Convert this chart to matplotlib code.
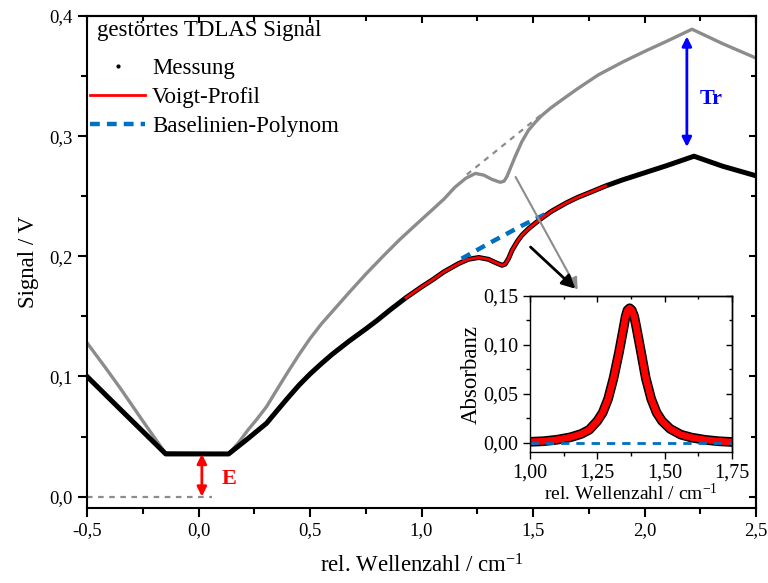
import matplotlib
matplotlib.use("Agg")
import numpy as np
import matplotlib.pyplot as plt
from matplotlib.lines import Line2D
from matplotlib.ticker import MultipleLocator, FuncFormatter

plt.rcParams["font.family"] = ["Liberation Serif", "DejaVu Serif"]
plt.rcParams["mathtext.fontset"] = "custom"
plt.rcParams["mathtext.rm"] = "Liberation Serif"
plt.rcParams["mathtext.it"] = "Liberation Serif:italic"

# ── Data ──────────────────────────────────────────────────────────────────────
# disturbed measurement (black)
wn_mess = [-0.5, -0.35, -0.147, 0.135, 0.22, 0.305, 0.35, 0.40, 0.452, 0.50,
           0.55, 0.60, 0.676, 0.75, 0.80, 0.86, 0.93, 1.00, 1.05, 1.10,
           1.167, 1.21, 1.257, 1.30, 1.335, 1.361, 1.375, 1.39, 1.406, 1.43,
           1.45, 1.48, 1.53, 1.583, 1.65, 1.70, 1.76, 1.825, 1.90, 2.0,
           2.1, 2.222, 2.35, 2.5]
sig_mess = [0.100, 0.0725, 0.0355, 0.0355, 0.048, 0.061, 0.071, 0.082, 0.093, 0.102,
            0.1105, 0.1185, 0.1295, 0.1395, 0.1465, 0.1555, 0.1655, 0.1745, 0.1805, 0.187,
            0.194, 0.1975, 0.199, 0.1975, 0.1945, 0.1925, 0.1935, 0.198, 0.205, 0.2125,
            0.2175, 0.223, 0.2305, 0.2375, 0.2445, 0.249, 0.2535, 0.2585, 0.2635, 0.2695,
            0.2755, 0.2833, 0.275, 0.267]

# undisturbed signal (gray)
wn_raw = [-0.5, -0.42, -0.35, -0.25, -0.15, 0.135, 0.18, 0.22, 0.26, 0.305,
          0.35, 0.40, 0.452, 0.50, 0.55, 0.60, 0.676, 0.752, 0.83, 0.90,
          0.97, 1.047, 1.10, 1.15, 1.199, 1.242, 1.28, 1.316, 1.353, 1.37,
          1.383, 1.40, 1.42, 1.45, 1.48, 1.51, 1.538, 1.58, 1.628, 1.70,
          1.793, 1.90, 2.0, 2.10, 2.213, 2.35, 2.5]
sig_raw = [0.128, 0.108, 0.090, 0.063, 0.0365, 0.0355, 0.045, 0.055, 0.064, 0.0748,
           0.0885, 0.1035, 0.1185, 0.1315, 0.1435, 0.154, 0.170, 0.1855, 0.2005, 0.2135,
           0.2255, 0.2385, 0.2475, 0.2575, 0.265, 0.269, 0.2675, 0.264, 0.2616, 0.2625,
           0.2663, 0.274, 0.283, 0.2954, 0.305, 0.3115, 0.317, 0.3235, 0.330, 0.3395,
           0.351, 0.3615, 0.3705, 0.379, 0.389, 0.377, 0.365]

# baselines under the absorption line
wn_base_raw = [1.203, 1.538]
sig_base_raw = [0.268, 0.318]
wn_base = [1.18, 1.30, 1.45, 1.583]
sig_base = [0.198, 0.2105, 0.2255, 0.2375]

# Voigt fit range
FIT_MIN, FIT_MAX = 0.93, 1.825

# offset E and transmission Tr
E_x, E_lo, E_hi = 0.015, 0.0, 0.0355
Tr_x, Tr_lo, Tr_hi = 2.19, 0.291, 0.383
zero_line_x = [-0.5, 0.06]

# inset: absorbance
wn_abs = [1.00, 1.05, 1.10, 1.15, 1.19, 1.22, 1.25, 1.27, 1.29, 1.31,
          1.33, 1.345, 1.355, 1.362, 1.37, 1.378, 1.387, 1.395, 1.41, 1.43,
          1.45, 1.47, 1.49, 1.52, 1.56, 1.60, 1.65, 1.70, 1.75]
absorb = [0.0012, 0.0018, 0.0033, 0.0058, 0.0092, 0.0135, 0.0225, 0.031, 0.045, 0.066,
          0.092, 0.114, 0.129, 0.1355, 0.1375, 0.1355, 0.129, 0.118, 0.096, 0.066,
          0.045, 0.031, 0.0225, 0.0145, 0.0085, 0.0055, 0.0032, 0.0018, 0.0010]

GRAY = "#8c8c8c"
BLUE_DASH = "#0070c0"


def comma_fmt(nd):
    return FuncFormatter(lambda v, p: f"{v:.{nd}f}".replace(".", ","))


def style_axes(ax, xmaj, xmin, ymaj, ymin, xnd, ynd, lsize, spine_w, lmaj, lmin):
    ax.xaxis.set_major_locator(MultipleLocator(xmaj))
    ax.xaxis.set_minor_locator(MultipleLocator(xmin))
    ax.yaxis.set_major_locator(MultipleLocator(ymaj))
    ax.yaxis.set_minor_locator(MultipleLocator(ymin))
    ax.xaxis.set_major_formatter(comma_fmt(xnd))
    ax.yaxis.set_major_formatter(comma_fmt(ynd))
    ax.tick_params(which="both", direction="out", width=spine_w, labelsize=lsize)
    ax.tick_params(which="major", length=lmaj)
    ax.tick_params(which="minor", length=lmin)
    for s in ax.spines.values():
        s.set_linewidth(spine_w)
    # inward ticks on top and right
    top = ax.secondary_xaxis("top")
    right = ax.secondary_yaxis("right")
    top.xaxis.set_major_locator(MultipleLocator(xmaj))
    top.xaxis.set_minor_locator(MultipleLocator(xmin))
    right.yaxis.set_major_locator(MultipleLocator(ymaj))
    right.yaxis.set_minor_locator(MultipleLocator(ymin))
    for sec in (top, right):
        sec.tick_params(which="both", direction="in", width=spine_w,
                        labeltop=False, labelright=False)
        sec.tick_params(which="major", length=lmaj * 0.8)
        sec.tick_params(which="minor", length=lmin * 0.8)
        for s in sec.spines.values():
            s.set_linewidth(spine_w)


fig = plt.figure(figsize=(7.68, 5.83), dpi=100)
ax = fig.add_axes([87 / 768, 75 / 583, 669 / 768, 492 / 583])

wn_mess = np.array(wn_mess)
sig_mess = np.array(sig_mess)
fit = (wn_mess >= FIT_MIN) & (wn_mess <= FIT_MAX)

ax.plot(wn_raw, sig_raw, color=GRAY, lw=2.4, solid_joinstyle="round")
ax.plot(wn_base_raw, sig_base_raw, color=GRAY, lw=1.6, ls=(0, (2.5, 2.5)))
ax.plot(wn_mess, sig_mess, color="black", lw=3.6, solid_joinstyle="round")
ax.plot(wn_base, sig_base, color=BLUE_DASH, lw=3.2, ls=(0, (2.2, 1.6)))
ax.plot(wn_mess[fit], sig_mess[fit], color="red", lw=2.0, solid_joinstyle="round")
ax.plot(zero_line_x, [0, 0], color=GRAY, lw=1.6, ls=(0, (2.5, 2.5)))

# E and Tr arrows
ax.annotate("", xy=(E_x, E_lo), xytext=(E_x, E_hi),
            arrowprops=dict(arrowstyle="<|-|>", color="red", lw=2,
                            mutation_scale=14, shrinkA=0, shrinkB=0))
ax.text(0.135, 0.015, "E", color="red", fontsize=16, fontweight="bold",
        ha="center", va="center")
ax.annotate("", xy=(Tr_x, Tr_lo), xytext=(Tr_x, Tr_hi),
            arrowprops=dict(arrowstyle="<|-|>", color="blue", lw=2,
                            mutation_scale=14, shrinkA=0, shrinkB=0))
ax.text(2.30, 0.331, "Tr", color="blue", fontsize=16, fontweight="bold",
        ha="center", va="center")

# pointers to inset
ax.annotate("", xy=(1.70, 0.172), xytext=(1.422, 0.266),
            arrowprops=dict(arrowstyle="-|>", color=GRAY, lw=1.5,
                            mutation_scale=18, shrinkA=0, shrinkB=0))
ax.annotate("", xy=(1.69, 0.173), xytext=(1.489, 0.2077),
            arrowprops=dict(arrowstyle="-|>", color="black", lw=2,
                            mutation_scale=20, shrinkA=0, shrinkB=0))

ax.set_xlim(-0.5, 2.5)
ax.set_ylim(-0.0095, 0.4)
style_axes(ax, 0.5, 0.25, 0.1, 0.05, 1, 1, 13.5, 1.5, 6.5, 4.5)
ax.set_xlabel(r"rel. Wellenzahl / cm$^{-1}$", fontsize=16.5, labelpad=11)
ax.set_ylabel("Signal / V", fontsize=16.5, labelpad=8)

# legend with a left aligned heading
ax.text(0.015, 0.9715, "gestörtes TDLAS Signal", transform=ax.transAxes,
        fontsize=16.5, ha="left", va="center")
handles = [
    Line2D([], [], color="black", marker=".", ls="none", markersize=4),
    Line2D([], [], color="red", lw=2),
    Line2D([], [], color=BLUE_DASH, lw=3.2, ls=(0, (2.2, 1.6))),
]
labels = ["Messung", "Voigt-Profil", "Baselinien-Polynom"]
leg = ax.legend(handles, labels, loc="upper left", bbox_to_anchor=(0.0045, 0.915),
                frameon=False, fontsize=16.5, handlelength=2.4, handletextpad=0.3,
                labelspacing=0.36, borderaxespad=0.0, borderpad=0.0)

# ── Inset: absorbance ─────────────────────────────────────────────────────────
axin = fig.add_axes([530 / 768, 131 / 583, 202 / 768, 156 / 583])
axin.plot(wn_abs, absorb, color="black", lw=7, solid_joinstyle="round")
axin.plot(wn_abs, absorb, color="red", lw=4.8, solid_joinstyle="round")
axin.plot([1.0, 1.75], [0, 0], color=BLUE_DASH, lw=2, ls=(0, (3, 2.5)))
axin.set_xlim(1.0, 1.75)
axin.set_ylim(-0.0092, 0.15)
style_axes(axin, 0.25, 0.125, 0.05, 0.025, 2, 2, 14.5, 1.0, 5, 3)
axin.set_xlabel(r"rel. Wellenzahl / cm$^{-1}$", fontsize=14, labelpad=0)
axin.set_ylabel("Absorbanz", fontsize=16.5, labelpad=1)

fig.savefig("out.png", dpi=100)
